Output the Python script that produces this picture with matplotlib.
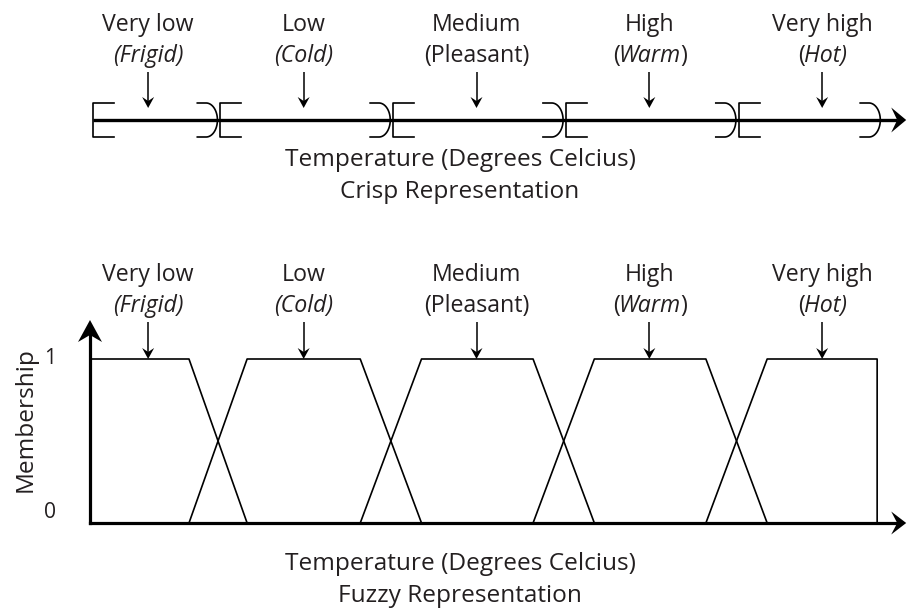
import numpy as np
import matplotlib
matplotlib.use("Agg")
import matplotlib.pyplot as plt
from matplotlib import rcParams, transforms
from matplotlib.patches import Polygon

# === Style ===
rcParams["font.family"] = "Open Sans"
LABEL_SIZE = 16.7
TITLE_SIZE = 17.6
TEXT_COLOR = "#231f20"
LINE_COLOR = "black"
AXIS_WIDTH = 2.3
SHAPE_WIDTH = 1.2
W, H = 907, 614

# === Data (temperature units along the axis) ===
categories = ["Very low", "Low", "Medium", "High", "Very high"]
alt_names = [
    [("(Frigid)", "italic")],
    [("(Cold)", "italic")],
    [("(Pleasant)", "normal")],
    [("(", "normal"), ("Warm", "italic"), (")", "normal")],
    [("(", "normal"), ("Hot)", "italic")],
]
label_x = [3.7, 13.6, 24.6, 35.6, 46.6]

# crisp interval edges
crisp_edges = [0.2, 8.3, 19.3, 30.3, 41.3, 50.3]

# fuzzy trapezoids: feet (membership 0) and shoulders (membership 1)
fuzzy_left_foot = [0.0, 6.3, 17.2, 28.2, 39.2]
fuzzy_left_shoulder = [0.0, 10.0, 21.1, 32.1, 43.1]
fuzzy_right_shoulder = [6.3, 17.2, 28.2, 39.2, 50.1]
fuzzy_right_foot = [10.0, 21.1, 32.1, 43.1, 50.1]

X_MAX = 52.0
X_TIP = 51.95

fig = plt.figure(figsize=(W / 100, H / 100), dpi=100)
renderer = fig.canvas.get_renderer()


def fy(px):
    return 1 - px / H


def arrow_head(ax, x, y, direction, length, half_width, notch):
    # stealth-like head, sizes in pixels, tip placed at data (x, y)
    pts = np.array([[0, 0], [-length, half_width], [-notch, 0], [-length, -half_width]]) / 100.0
    if direction == "up":
        pts = np.column_stack([-pts[:, 1], pts[:, 0]])
    elif direction == "down":
        pts = np.column_stack([pts[:, 1], -pts[:, 0]])
    trans = fig.dpi_scale_trans + transforms.ScaledTranslation(x, y, ax.transData)
    ax.add_patch(Polygon(pts, closed=True, transform=trans, facecolor=LINE_COLOR,
                         edgecolor="none", clip_on=False, zorder=5))


def styled_label(ax, x, y_px, pieces):
    trans = transforms.blended_transform_factory(ax.transData, fig.transFigure)
    texts = [ax.text(x, fy(y_px), s, transform=trans, fontstyle=st, ha="left",
                     va="baseline", fontsize=LABEL_SIZE, color=TEXT_COLOR, clip_on=False)
             for s, st in pieces]
    widths = [t.get_window_extent(renderer).width for t in texts]
    if len(widths) > 1:
        widths = [w - 1.0 for w in widths]
    offset = -sum(widths) / 2
    for t, w in zip(texts, widths):
        t.set_transform(transforms.offset_copy(trans, fig=fig, x=offset, y=0, units="dots"))
        offset += w


def category_labels(ax, base1, base2, arr_from, arr_to):
    trans = transforms.blended_transform_factory(ax.transData, fig.transFigure)
    for x, name, alt in zip(label_x, categories, alt_names):
        ax.text(x, fy(base1), name, transform=trans, ha="center", va="baseline",
                fontsize=LABEL_SIZE, color=TEXT_COLOR, clip_on=False)
        styled_label(ax, x, base2, alt)
        ax.plot([x, x], [fy(arr_from), fy(arr_to - 4)], transform=trans, color=LINE_COLOR,
                lw=1.1, solid_capstyle="butt", clip_on=False)
        tip_y = (fy(arr_to) - ax.get_position().y0) / ax.get_position().height
        tip_data = ax.get_ylim()[0] + tip_y * (ax.get_ylim()[1] - ax.get_ylim()[0])
        arrow_head(ax, x, tip_data, "down", 11, 6, 7)


# === Crisp panel ===
ax_top = fig.add_axes([90 / W, fy(210), 817 / W, 210 / H])
ax_top.set_xlim(0, X_MAX)
ax_top.set_ylim(-90, 120)
ax_top.axis("off")

ax_top.plot([crisp_edges[0], X_TIP - 0.6], [0, 0], color=LINE_COLOR, lw=2.4,
            solid_capstyle="butt")
arrow_head(ax_top, X_TIP, 0, "right", 15, 12.5, 9)

BR_H = 17          # bracket half height (pixels == y units here)
ARM = 1.33         # bracket arm length in x units
CURVE_R = 0.72     # ')' horizontal radius
GAP = 0.19
t = np.linspace(-np.pi / 2, np.pi / 2, 60)
for i, e in enumerate(crisp_edges):
    if i < len(crisp_edges) - 1:
        # opening bracket '['
        ax_top.plot([e + ARM, e, e, e + ARM], [BR_H, BR_H, -BR_H, -BR_H],
                    color=LINE_COLOR, lw=SHAPE_WIDTH)
    if i > 0:
        # closing ')'
        r = e - GAP if i < len(crisp_edges) - 1 else e
        cx = r - CURVE_R
        xs = np.concatenate([[r - ARM + 0.05], cx + CURVE_R * np.cos(t[::-1]), [r - ARM + 0.05]])
        ys = np.concatenate([[BR_H], BR_H * np.sin(t[::-1]), [-BR_H]])
        ax_top.plot(xs, ys, color=LINE_COLOR, lw=SHAPE_WIDTH)

category_labels(ax_top, 31, 62, 72, 108)

fig.text(460 / W, fy(166), "Temperature (Degrees Celcius)", ha="center", va="baseline",
         fontsize=TITLE_SIZE, color=TEXT_COLOR)
fig.text(460 / W, fy(198), "Crisp Representation", ha="center", va="baseline",
         fontsize=TITLE_SIZE, color=TEXT_COLOR)

# === Fuzzy panel ===
ax_bot = fig.add_axes([90 / W, fy(523), 817 / W, (523 - 240) / H])
ax_bot.set_xlim(0, X_MAX)
ax_bot.set_ylim(0, (523 - 240) / 164)
for s in ["top", "right"]:
    ax_bot.spines[s].set_visible(False)
for s in ["left", "bottom"]:
    ax_bot.spines[s].set_linewidth(AXIS_WIDTH)
    ax_bot.spines[s].set_color(LINE_COLOR)
Y_TIP = (523 - 320) / 164
ax_bot.spines["bottom"].set_bounds(0, X_TIP - 0.6)
ax_bot.spines["left"].set_bounds(0, Y_TIP - 0.08)
ax_bot.set_xticks([])
ax_bot.set_yticks([])
ax_bot.patch.set_visible(False)
arrow_head(ax_bot, X_TIP, 0, "right", 15, 11.5, 9)
arrow_head(ax_bot, 0, Y_TIP, "up", 22, 12, 15)

for lf, ls, rs, rf in zip(fuzzy_left_foot, fuzzy_left_shoulder,
                          fuzzy_right_shoulder, fuzzy_right_foot):
    ax_bot.plot([lf, ls, rs, rf], [0, 1, 1, 0], color=LINE_COLOR, lw=SHAPE_WIDTH,
                clip_on=False)

category_labels(ax_bot, 281, 312, 322, 359)

fig.text(50 / W, fy(359), "1", ha="center", va="center", fontsize=LABEL_SIZE - 1.5,
         color=TEXT_COLOR)
fig.text(50 / W, fy(513), "0", ha="center", va="center", fontsize=LABEL_SIZE - 1.5,
         color=TEXT_COLOR)
fig.text(26 / W, fy(420), "Membership", rotation=90, ha="center", va="center",
         fontsize=TITLE_SIZE, color=TEXT_COLOR)

fig.text(460 / W, fy(570), "Temperature (Degrees Celcius)", ha="center", va="baseline",
         fontsize=TITLE_SIZE, color=TEXT_COLOR)
fig.text(460 / W, fy(602), "Fuzzy Representation", ha="center", va="baseline",
         fontsize=TITLE_SIZE, color=TEXT_COLOR)

fig.savefig("out.png", dpi=100, facecolor="white")
